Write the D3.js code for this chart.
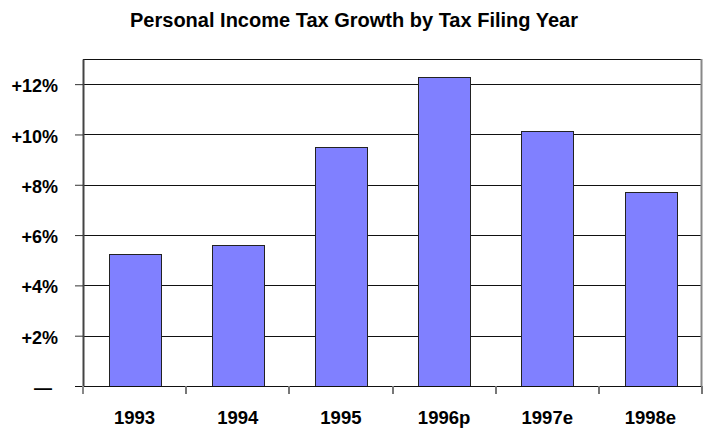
<!DOCTYPE html>
<html>
<head>
<meta charset="utf-8">
<script src="https://cdn.jsdelivr.net/npm/d3@7"></script>
<style>
  body { margin: 0; background: #fff; }
  svg text { font-family: "Liberation Sans Narrow", "Arial Narrow", "Liberation Sans", sans-serif; font-weight: bold; fill: #000; }
</style>
</head>
<body>
<div id="chart"></div>
<script>
// data
const years = ["1993", "1994", "1995", "1996p", "1997e", "1998e"];
const growth = [5.25, 5.6, 9.5, 12.28, 10.12, 7.72];
const yTicks = [0, 2, 4, 6, 8, 10, 12];
const yTickLabels = ["\u2014", "+2%", "+4%", "+6%", "+8%", "+10%", "+12%"];

const svg_width = 707;
const svg_height = 429;
const margin = { top: 59, right: 5, bottom: 43, left: 83 };
const width = svg_width - margin.left - margin.right;
const height = svg_height - margin.top - margin.bottom;

const svg = d3.select('#chart').append('svg')
    .attr('width', svg_width).attr('height', svg_height);

// title
svg.append('text').attr('x', 354).attr('y', 27)
    .attr('text-anchor', 'middle').style('font-size', '20px')
    .text('Personal Income Tax Growth by Tax Filing Year');

const g = svg.append('g').attr('transform', `translate(${margin.left},${margin.top})`);

const x = d3.scaleBand().domain(years).range([0, width])
    .paddingInner(0.5).paddingOuter(0.25);
const y = d3.scaleLinear().domain([0, 13]).range([height, 0]);

// gridlines
g.append('g').selectAll('line').data(yTicks.filter(d => d > 0)).join('line')
    .attr('x1', 0).attr('x2', width)
    .attr('y1', d => Math.round(y(d)) + 0.5).attr('y2', d => Math.round(y(d)) + 0.5)
    .attr('stroke', '#111').attr('stroke-width', 1);

// top + right border
g.append('line').attr('x1', 0).attr('x2', width).attr('y1', 0.5).attr('y2', 0.5)
    .attr('stroke', '#111');
g.append('line').attr('x1', width - 0.5).attr('x2', width - 0.5).attr('y1', 0).attr('y2', height)
    .attr('stroke', '#888').attr('stroke-width', 2);

// bars
g.append('g').selectAll('rect').data(growth).join('rect')
    .attr('x', (d, i) => Math.round(x(years[i])) + 0.5)
    .attr('y', d => Math.round(y(d)) + 0.5)
    .attr('width', Math.round(x.bandwidth()))
    .attr('height', d => Math.round(height - y(d)))
    .attr('fill', '#8080ff').attr('stroke', '#222').attr('stroke-width', 1);

// y axis
const yAxis = d3.axisLeft(y).tickValues(yTicks)
    .tickFormat((d, i) => yTickLabels[i]).tickSize(8).tickSizeOuter(0).tickPadding(17);
const yAxisDraw = g.append('g').call(yAxis);
yAxisDraw.select('.domain').attr('stroke', '#444').attr('stroke-width', 2);
yAxisDraw.selectAll('.tick line').attr('stroke', '#333');
yAxisDraw.selectAll('.tick text').style('font-size', '18px').attr('dy', '0.42em');
yAxisDraw.select('.tick text').attr('dx', '-6px');

// x axis baseline + ticks at category boundaries
g.append('line').attr('x1', -8).attr('x2', width).attr('y1', height + 0.5).attr('y2', height + 0.5)
    .attr('stroke', '#111');
const step = x.step();
g.append('g').selectAll('line').data(d3.range(years.length + 1)).join('line')
    .attr('x1', i => Math.round(i * step)).attr('x2', i => Math.round(i * step))
    .attr('y1', height).attr('y2', height + 8)
    .attr('stroke', '#777').attr('stroke-width', 2);
g.append('line').attr('x1', 0).attr('x2', 0).attr('y1', height).attr('y2', height + 8)
    .attr('stroke', '#888').attr('stroke-width', 2);

g.append('g').selectAll('text').data(years).join('text')
    .attr('x', d => x(d) + x.bandwidth() / 2).attr('y', height + 38)
    .attr('text-anchor', 'middle').style('font-size', '18.5px')
    .text(d => d);
</script>
</body>
</html>
